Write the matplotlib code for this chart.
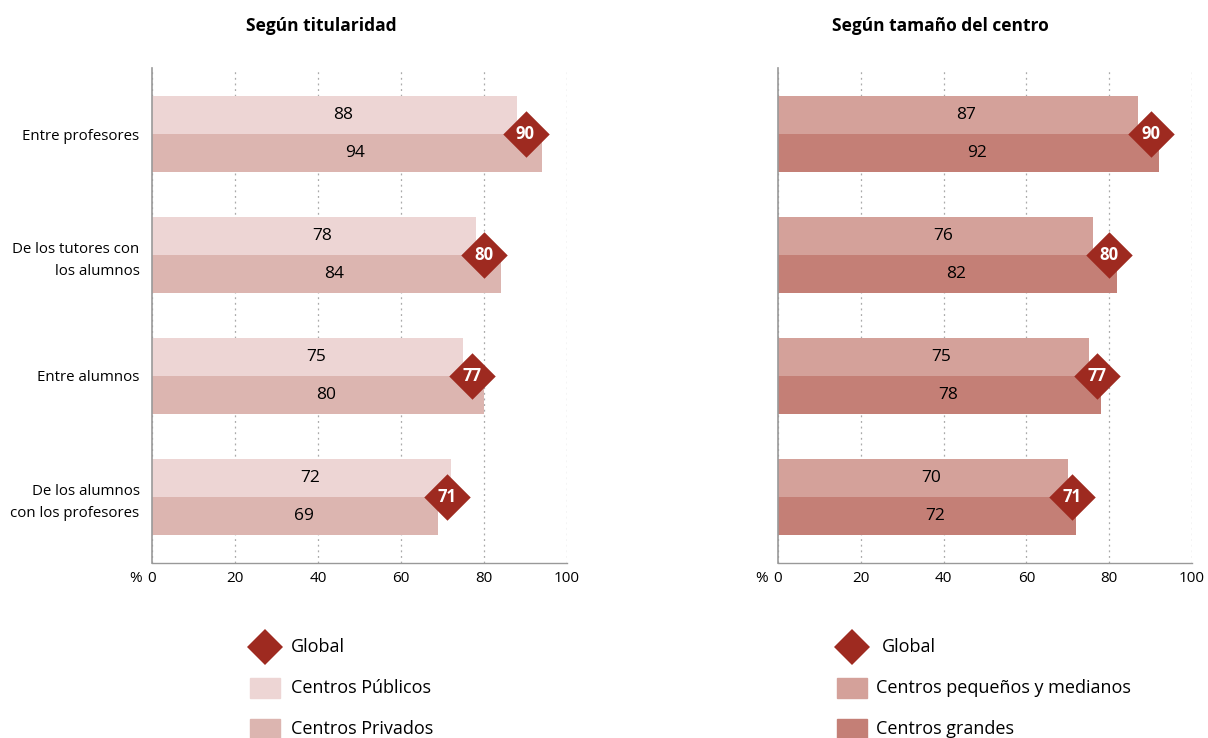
import matplotlib
matplotlib.use("Agg")
import matplotlib.pyplot as plt
import numpy as np
from matplotlib.lines import Line2D

plt.rcParams['font.family'] = ['Open Sans', 'DejaVu Sans']

# Data
categories = ["Entre profesores", "De los tutores con\nlos alumnos",
              "Entre alumnos", "De los alumnos\ncon los profesores"]
publicos = [88, 78, 75, 72]
privados = [94, 84, 80, 69]
global_vals = [90, 80, 77, 71]
pequenos = [87, 76, 75, 70]
grandes = [92, 82, 78, 72]

titles = ["Según titularidad", "Según tamaño del centro"]
series_left = ["Centros Públicos", "Centros Privados"]
series_right = ["Centros pequeños y medianos", "Centros grandes"]
xticks = [0, 20, 40, 60, 80, 100]

c_pub, c_priv = "#edd5d4", "#dcb5b0"
c_peq, c_gra = "#d4a19a", "#c47f76"
c_dia = "#9e2a20"

fig = plt.figure(figsize=(12.08, 7.38), dpi=100)
ax1 = fig.add_axes([152/1208, 1-563/738, 415/1208, 495/738])
ax2 = fig.add_axes([778/1208, 1-563/738, 414/1208, 495/738])

y = np.arange(len(categories))
h = 0.315

def draw(ax, top, bot, ctop, cbot, show_labels):
    ax.barh(y - h/2, top, height=h, color=ctop, zorder=2)
    ax.barh(y + h/2, bot, height=h, color=cbot, zorder=2)
    for i in range(len(y)):
        ax.text(top[i]/2 + 2, y[i] - h/2, str(top[i]), ha='center', va='center', fontsize=12.5, zorder=3)
        ax.text(bot[i]/2 + 2, y[i] + h/2, str(bot[i]), ha='center', va='center', fontsize=12.5, zorder=3)
    ax.scatter(global_vals, y, marker='D', s=560, color=c_dia, zorder=4, linewidths=0)
    for i in range(len(y)):
        ax.text(global_vals[i], y[i], str(global_vals[i]), ha='center', va='center',
                color='white', fontsize=12, fontweight='bold', zorder=5)
    ax.set_xlim(0, 100)
    ax.set_ylim(3.55, -0.55)
    ax.set_xticks(xticks)
    ax.set_xticklabels([str(t) for t in xticks], fontsize=11)
    ax.annotate("%", xy=(0, 0), xycoords='axes fraction', xytext=(-7, -6),
                textcoords='offset points', ha='right', va='top', fontsize=11)
    ax.xaxis.grid(True, linestyle=(0, (1.5, 3)), color='#aaaaaa', linewidth=0.9, zorder=0)
    ax.tick_params(axis='x', length=0, pad=6)
    ax.tick_params(axis='y', length=0, pad=9)
    for s in ['top', 'right']:
        ax.spines[s].set_visible(False)
    ax.spines['left'].set_color('#999999')
    ax.spines['bottom'].set_color('#999999')
    ax.spines['left'].set_linewidth(1.2)
    ax.spines['bottom'].set_linewidth(1.0)
    ax.set_yticks(y)
    if show_labels:
        ax.set_yticklabels(categories, fontsize=10.8, ha='right', linespacing=1.65)
    else:
        ax.set_yticklabels([])

draw(ax1, publicos, privados, c_pub, c_priv, True)
draw(ax2, pequenos, grandes, c_peq, c_gra, False)

fig.text(321/1208, 1-26/738, titles[0], ha='center', va='center', fontsize=12.5, fontweight='bold')
fig.text(940/1208, 1-26/738, titles[1], ha='center', va='center', fontsize=12.5, fontweight='bold')

def legend(x_dia, x_sq, x_txt, names, c1, c2):
    fig.add_artist(Line2D([x_dia/1208], [1-647/738], marker='D', markersize=18, color=c_dia,
                          linestyle='none', markeredgewidth=0))
    fig.text(x_txt[0]/1208, 1-647/738, "Global", ha='left', va='center', fontsize=13)
    for yy, name, c in [(688, names[0], c1), (729, names[1], c2)]:
        fig.add_artist(plt.Rectangle((x_sq/1208, 1-(yy+10)/738), 30/1208, 20/738, color=c,
                                     transform=fig.transFigure))
        fig.text(x_txt[1]/1208, 1-yy/738, name, ha='left', va='center', fontsize=13)

legend(265, 250, (291, 291), series_left, c_pub, c_priv)
legend(852, 837, (882, 876), series_right, c_peq, c_gra)

fig.savefig("out.png", dpi=100)
